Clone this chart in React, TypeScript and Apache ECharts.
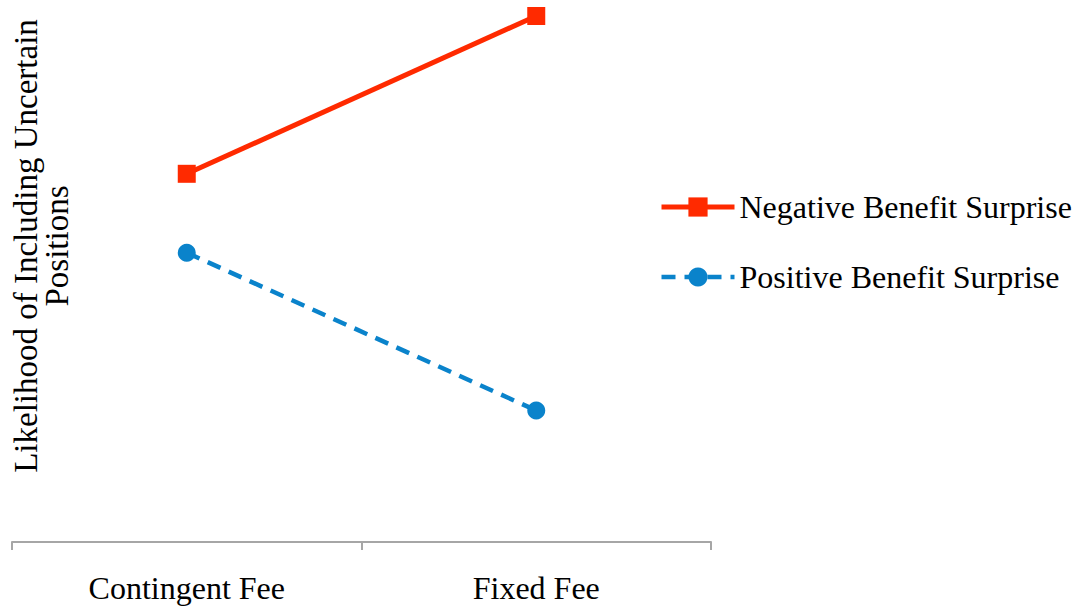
import React, { useEffect, useRef } from "react";
import * as echarts from "echarts";

const categories = ["Contingent Fee", "Fixed Fee"];
const negativeSurprise = [7.0, 10.0];
const positiveSurprise = [5.5, 2.5];
const seriesNames = ["Negative Benefit Surprise", "Positive Benefit Surprise"];
const yTitle = "Likelihood of Including Uncertain\nPositions";

const FONT = "Liberation Serif";
const RED = "#FF2A00";
const BLUE = "#0A83CB";

export default function App() {
  const ref = useRef<HTMLDivElement>(null);
  useEffect(() => {
    if (!ref.current) return;
    const chart = echarts.init(ref.current, undefined, { renderer: "svg" });
    chart.setOption({
      animation: false,
      backgroundColor: "#ffffff",
      grid: { left: 12, right: 368, top: 16, bottom: 65 },
      xAxis: {
        type: "category",
        data: categories,
        boundaryGap: true,
        axisLine: { show: true, lineStyle: { color: "#A6A6A6", width: 2 } },
        axisTick: { show: true, length: 8, interval: 0, lineStyle: { color: "#A6A6A6", width: 2 } },
        axisLabel: { color: "#000", fontFamily: FONT, fontSize: 32, margin: 30, interval: 0 },
      },
      yAxis: {
        type: "value",
        min: 0,
        max: 10,
        axisLine: { show: false },
        axisTick: { show: false },
        axisLabel: { show: false },
        splitLine: { show: false },
      },
      legend: {
        orient: "vertical",
        left: 654,
        top: 186,
        itemWidth: 73,
        itemHeight: 24,
        itemGap: 38,
        textStyle: { color: "#000", fontFamily: FONT, fontSize: 32 },
        data: [
          { name: seriesNames[0], lineStyle: { width: 5 } },
          { name: seriesNames[1], lineStyle: { width: 4.5 } },
        ],
      },
      graphic: [
        {
          type: "text",
          x: 41,
          y: 246,
          rotation: Math.PI / 2,
          style: {
            text: yTitle,
            fill: "#000",
            fontFamily: FONT,
            fontSize: 33,
            lineHeight: 31,
            align: "center",
            verticalAlign: "middle",
          },
        },
      ],
      series: [
        {
          name: seriesNames[0],
          type: "line",
          data: negativeSurprise,
          symbol: "rect",
          symbolSize: 18,
          clip: false,
          lineStyle: { color: RED, width: 5 },
          itemStyle: { color: RED },
        },
        {
          name: seriesNames[1],
          type: "line",
          data: positiveSurprise,
          symbol: "circle",
          symbolSize: 18,
          clip: false,
          lineStyle: { color: BLUE, width: 4.5, type: [14, 9] },
          itemStyle: { color: BLUE },
        },
      ],
    });
    return () => chart.dispose();
  }, []);
  return (
    <div
      ref={ref}
      style={{ position: "fixed", left: 0, top: 0, width: 1079, height: 607 }}
    />
  );
}
